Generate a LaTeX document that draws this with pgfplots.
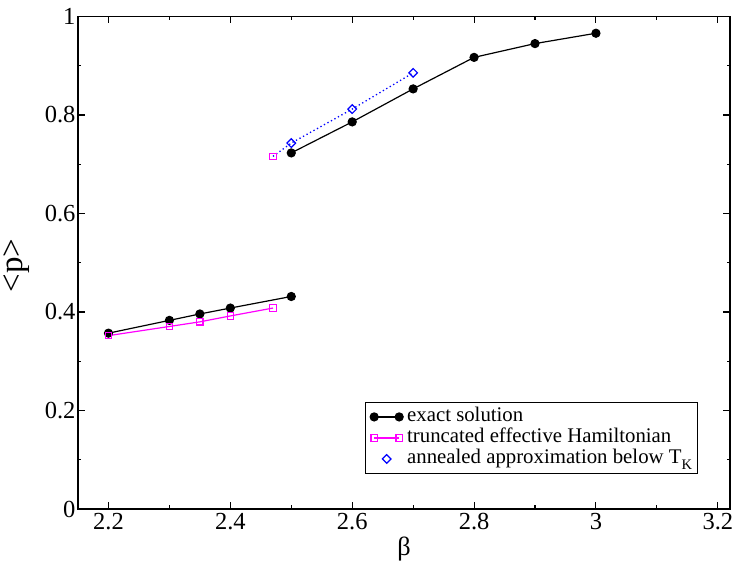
\documentclass[border=0pt]{standalone}
\usepackage{fontspec}
\setmainfont{Liberation Serif}
\newfontfamily\tickfont[Scale=2.45]{Liberation Serif}
\newfontfamily\xlabfont[Scale=2.63]{Liberation Serif}
\newfontfamily\ylabfont[Scale=3.3]{Liberation Serif}
\newfontfamily\legfont[Scale=2.08]{Liberation Serif}
\usepackage{pgfplots}
\pgfplotsset{compat=1.18}
\usetikzlibrary{calc}
\definecolor{mag}{RGB}{255,0,255}
\definecolor{blu}{RGB}{0,0,255}
\pgfplotsset{
  twomark legend/.style={legend image code/.code={\draw[##1] plot coordinates {(0cm,0cm) (25pt,0cm)};}},
  onemark legend/.style={legend image code/.code={\draw[##1] plot coordinates {(12.5pt,0cm)};}},
}
\begin{document}
\begin{tikzpicture}
\begin{axis}[
  scale only axis,
  width=652pt, height=492.5pt,
  xmin=2.15, xmax=3.22, ymin=0, ymax=1,
  xtick={2.2,2.4,...,3.21}, ytick={0,0.2,...,1.01},
  minor xtick={2.3,2.5,...,3.11}, minor ytick={0.1,0.3,...,0.91},
  tick align=inside, tick pos=both,
  major tick length=7pt, minor tick length=3.5pt,
  axis line style={line width=1.2pt}, every tick/.style={line width=1.1pt, black},
  /pgf/number format/assume math mode=true,
  tick label style={font=\tickfont},
  xticklabel style={yshift=-1pt},
  yticklabel style={xshift=1pt},
  xlabel={β}, ylabel={<p>},
  xlabel style={font=\xlabfont, at={(axis description cs:0.5,-0.0954)}, anchor=base},
  ylabel style={font=\ylabfont, at={(axis description cs:-0.0855,0.494)}, anchor=base, rotate=0},
  unbounded coords=jump,
  legend cell align=left,
  legend style={at={(0.44,0.217)}, anchor=north west, font=\legfont,
    draw=black, line width=0.6pt, inner xsep=5pt, inner ysep=4pt, row sep=0pt, column sep=4pt,
    nodes={inner xsep=0pt, inner ysep=1pt, text height=14pt, text depth=5pt}},
  twomark legend,
]
\addplot[black, line width=1.2pt, mark=*, mark size=4pt, mark options={solid}] coordinates {
  (2.2,0.357) (2.3,0.383) (2.35,0.396) (2.4,0.408) (2.5,0.4315)
  (2.5,nan)
  (2.5,0.723) (2.6,0.786) (2.7,0.853) (2.8,0.917) (2.9,0.945) (3.0,0.966)};
\addlegendentry{exact solution}
\addplot[mag, line width=1.2pt, mark=square, mark size=3.2pt, mark options={solid, line width=1.2pt}] coordinates {
  (2.2,0.352) (2.3,0.3706) (2.35,0.380) (2.4,0.392) (2.47,0.408)
  (2.47,nan)
  (2.47,0.716)};
\addlegendentry{truncated effective Hamiltonian}
\addplot[blu, only marks, mark=square, mark size=3.05pt, mark options={rotate=45, line width=1.2pt}, onemark legend] coordinates {
  (2.5,0.743) (2.6,0.812) (2.7,0.8856)};
\addlegendentry{annealed approximation below T\textsubscript{K}}
\addplot[blu, dash pattern=on 1.3pt off 2.7pt, line width=1.3pt, forget plot] coordinates {
  (2.47,0.716) (2.5,0.743) (2.6,0.812) (2.7,0.8856)};
\end{axis}
\pgfresetboundingbox
\path[use as bounding box] ($(current axis.south west)+(-78pt,-58pt)$) rectangle ($(current axis.north east)+(4pt,16.5pt)$);
\end{tikzpicture}
\end{document}
